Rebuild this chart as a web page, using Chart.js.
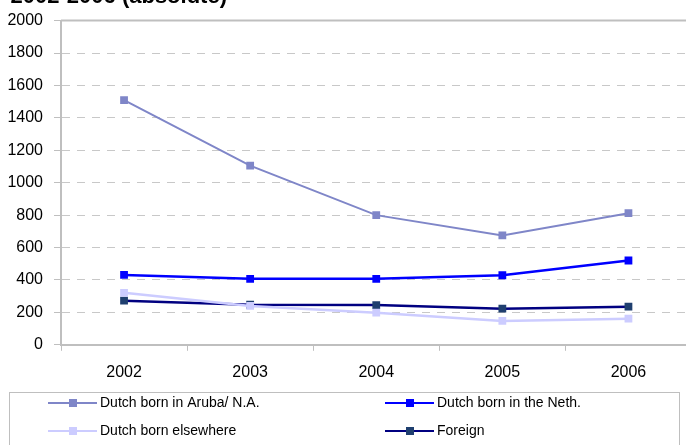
<!DOCTYPE html>
<html>
<head>
<meta charset="utf-8">
<script src="https://cdn.jsdelivr.net/npm/chart.js@4.4.0/dist/chart.umd.min.js"></script>
<style>
  html, body { margin: 0; padding: 0; background: #fff; overflow: hidden; }
  /* plot runs past the right edge of the picture, so the canvas is a bit wider */
  .chart__wrapper { position: relative; width: 697px; height: 445px; }
</style>
</head>
<body>
<div class="chart__wrapper"><canvas id="growth-chart"></canvas></div>
<script>
const years = ["2002", "2003", "2004", "2005", "2006"];
const bornArubaNA = [1510, 1105, 800, 675, 812];
const bornNeth = [431, 407, 407, 429, 520];
const bornElsewhere = [321, 240, 198, 147, 161];
const foreign = [272, 247, 245, 223, 235];
const seriesNames = [
  "Dutch born in Aruba/ N.A.",
  "Dutch born in the Neth.",
  "Dutch born elsewhere",
  "Foreign",
];
const yMax = 2000;
const yStep = 200;
const titleText = "2002-2006 (absolute)";

const FONT = '"Liberation Sans", Arial, sans-serif';
const AXIS_GREY = "#bfbfbf";

// title is cut off at the top of the picture, only its lower part shows
const titlePlugin = {
  id: "cutTitle",
  afterDraw(chart) {
    const ctx = chart.ctx;
    ctx.save();
    ctx.font = "bold 22px " + FONT;
    ctx.fillStyle = "#000";
    ctx.textAlign = "right";
    ctx.textBaseline = "alphabetic";
    ctx.fillText(titleText, 227, 3);
    ctx.restore();
  },
};

// solid top edge of the plot area
const framePlugin = {
  id: "plotFrame",
  beforeDatasetsDraw(chart) {
    const { ctx, chartArea } = chart;
    ctx.save();
    ctx.strokeStyle = AXIS_GREY;
    ctx.lineWidth = 2;
    ctx.beginPath();
    ctx.moveTo(chartArea.left, chartArea.top);
    ctx.lineTo(chart.width, chartArea.top);
    ctx.stroke();
    ctx.restore();
  },
};

// boxed two column legend under the x axis
const legendPlugin = {
  id: "boxLegend",
  afterDraw(chart) {
    const ctx = chart.ctx;
    const cols = [48, 385];
    const rows = [403, 431];
    ctx.save();
    ctx.strokeStyle = AXIS_GREY;
    ctx.lineWidth = 1;
    ctx.strokeRect(9.5, 392.5, 670, 80);
    ctx.font = "14px " + FONT;
    ctx.textBaseline = "middle";
    chart.data.datasets.forEach((ds, i) => {
      const x = cols[i % 2];
      const y = rows[Math.floor(i / 2)];
      ctx.strokeStyle = ds.borderColor;
      ctx.lineWidth = 2;
      ctx.beginPath();
      ctx.moveTo(x, y);
      ctx.lineTo(x + 49, y);
      ctx.stroke();
      ctx.fillStyle = ds.pointBackgroundColor;
      ctx.fillRect(x + 21, y - 4, 8, 8);
      ctx.fillStyle = "#000";
      ctx.fillText(ds.label, x + 52, y);
    });
    ctx.restore();
  },
};

function makeSeries(label, data, line, marker, width) {
  return {
    label,
    data,
    borderColor: line,
    backgroundColor: marker,
    pointBackgroundColor: marker,
    pointBorderColor: marker,
    borderWidth: width,
    pointStyle: "rect",
    pointRadius: 5.5,
    pointBorderWidth: 0,
    tension: 0,
    fill: false,
  };
}

const ctx = document.getElementById("growth-chart").getContext("2d");
new Chart(ctx, {
  type: "line",
  data: {
    labels: years,
    datasets: [
      makeSeries(seriesNames[0], bornArubaNA, "#7f86c8", "#7f86c8", 2),
      makeSeries(seriesNames[1], bornNeth, "#0000ff", "#0000ff", 2.5),
      makeSeries(seriesNames[2], bornElsewhere, "#ccccff", "#ccccff", 2.5),
      makeSeries(seriesNames[3], foreign, "#000080", "#1f3f6f", 2.5),
    ],
  },
  options: {
    responsive: true,
    maintainAspectRatio: false,
    animation: false,
    layout: {
      padding: { top: 17, left: 7, right: 0, bottom: 51 },
    },
    scales: {
      x: {
        offset: true,
        grid: {
          offset: true,
          drawOnChartArea: false,
          drawTicks: true,
          tickLength: 6,
          color: AXIS_GREY,
        },
        border: { color: AXIS_GREY, width: 2 },
        ticks: {
          color: "#000",
          padding: 12,
          maxRotation: 0,
          font: { family: FONT, size: 16 },
        },
      },
      y: {
        min: 0,
        max: yMax,
        afterFit: (scale) => {
          scale.width = 54;
        },
        grid: {
          color: "#c8c8c8",
          lineWidth: 1,
          tickLength: 7,
          tickColor: AXIS_GREY,
        },
        border: { color: AXIS_GREY, width: 2, dash: [8, 7] },
        ticks: {
          stepSize: yStep,
          color: "#000",
          padding: 11,
          font: { family: FONT, size: 16 },
          callback: (value) => String(value),
        },
      },
    },
    plugins: {
      legend: { display: false },
      title: { display: false },
      tooltip: { enabled: false },
    },
  },
  plugins: [titlePlugin, framePlugin, legendPlugin],
});
</script>
</body>
</html>
